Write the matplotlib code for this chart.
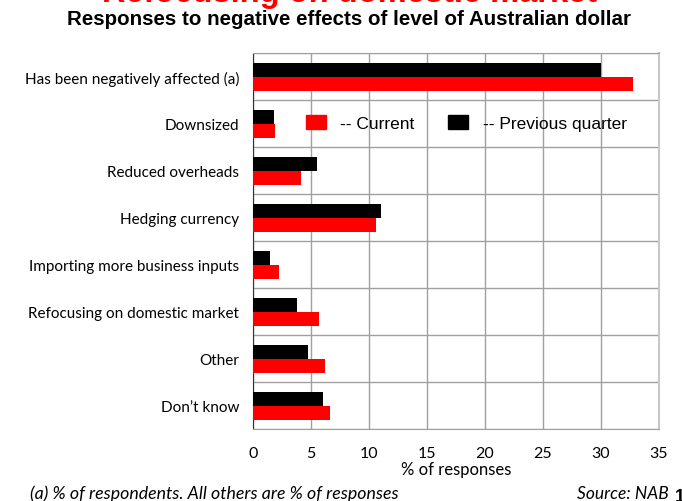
import numpy as np
import matplotlib.pyplot as plt
from matplotlib.patches import Patch

categories = ["Has been negatively affected (a)", "Downsized", "Reduced overheads",
              "Hedging currency", "Importing more business inputs",
              "Refocusing on domestic market", "Other", "Don\u2019t know"]
current = [32.8, 1.9, 4.1, 10.6, 2.2, 5.7, 6.2, 6.6]
previous = [30.0, 1.8, 5.5, 11.0, 1.5, 3.8, 4.7, 6.0]
xticks = [0, 5, 10, 15, 20, 25, 30, 35]

fig = plt.figure(figsize=(6.82, 5.02), dpi=100)
ax = fig.add_axes([0.371, 0.143, 0.595, 0.749])

y = np.arange(len(categories))
h = 0.3
ax.barh(y - h / 2, previous, height=h, color="black", zorder=3)
ax.barh(y + h / 2, current, height=h, color="#ff0000", zorder=3)

ax.set_xlim(0, 35)
ax.set_ylim(len(categories) - 0.5, -0.5)
ax.set_xticks(xticks)
ax.set_yticks(y)
ax.set_yticklabels(categories, fontsize=11, family="Lato")
ax.set_yticks(np.arange(len(categories) + 1) - 0.5, minor=True)
ax.tick_params(axis="y", which="both", length=0, pad=10)
ax.tick_params(axis="x", length=0, pad=12, labelsize=11.5)
for t in ax.get_xticklabels():
    t.set_family("Lato")

ax.grid(True, axis="x", color="#a0a0a0", linewidth=1, zorder=0)
ax.grid(True, axis="y", which="minor", color="#a0a0a0", linewidth=1, zorder=0)
for side in ["top", "bottom", "right"]:
    ax.spines[side].set_color("#a0a0a0")
ax.spines["right"].set_color("#c8c8c8")
ax.spines["right"].set_linewidth(1.5)
ax.spines["left"].set_color("#303030")

ax.set_xlabel("% of responses", fontsize=12, family="Lato", labelpad=1)

handles = [Patch(color="#ff0000", label="-- Current"),
           Patch(color="black", label="-- Previous quarter")]
ax.legend(handles=handles, ncol=2, frameon=False, loc="center left",
          bbox_to_anchor=(0.091, 0.814), handlelength=1.15, handleheight=0.86,
          handletextpad=0.86, columnspacing=1.9,
          prop={"family": "Liberation Sans", "size": 12.5})

# headline sits mostly above the top edge, only its lower part shows
fig.text(0.512, 0.997, "Refocusing on domestic market", color="#ff0000",
         fontsize=23.5, fontweight="bold", family="Liberation Sans", ha="center", va="baseline")
fig.text(0.512, 0.962, "Responses to negative effects of level of Australian dollar",
         fontsize=14.8, fontweight="bold", family="Liberation Sans", ha="center", va="center")
fig.text(0.044, 0.016, "(a) % of respondents. All others are % of responses",
         fontsize=12.8, style="italic", family="Lato", ha="left", va="center")
fig.text(0.98, 0.016, "Source: NAB", fontsize=12.5, style="italic", family="Lato",
         ha="right", va="center")
fig.text(0.989, 0.008, "1", fontsize=13, fontweight="bold", family="Liberation Sans",
         ha="left", va="center")

fig.savefig("out.png", dpi=100)
